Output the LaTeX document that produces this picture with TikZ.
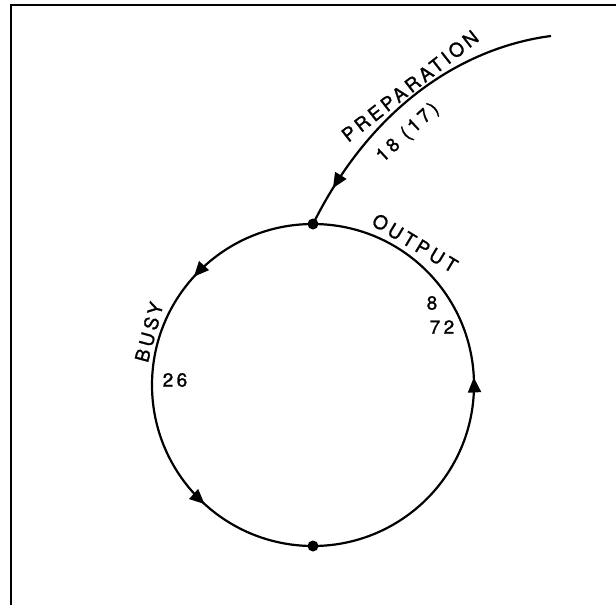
\documentclass[tikz,border=0pt]{standalone}
\usepackage{fontspec}
\setmainfont{TeX Gyre Heros}[LetterSpace=18, FakeBold=1.3]
\usetikzlibrary{arrows.meta,decorations.markings}
\tikzset{
  x=1pt, y=1pt,
  lbl/.style={inner sep=0pt, font=\fontsize{19}{21}\selectfont},
  dot/.style={circle, fill=black, inner sep=0pt, minimum size=11pt},
  flowline/.style={line width=2.2pt},
  mk/.style={postaction={decorate},
    decoration={markings, mark=at position #1 with {\arrow{Triangle[length=15pt,width=13pt]}}}},
  mktwo/.style 2 args={postaction={decorate},
    decoration={markings,
      mark=at position #1 with {\arrow{Triangle[length=15pt,width=13pt]}},
      mark=at position #2 with {\arrow{Triangle[length=15pt,width=13pt]}}}},
}
\begin{document}
\begin{tikzpicture}
\useasboundingbox (0,0) rectangle (616,-605);
% frame
\coordinate (fbl) at (11,-605);
\coordinate (ftl) at (11,-5);
\coordinate (ftr) at (616,-5);
\draw[line width=2pt] (fbl) -- (ftl) -- (ftr);
% nodes
\node[dot] (top) at (313,-224) {};
\node[dot] (bot) at (313,-546) {};
\coordinate (start) at (551,-36);
% circle arcs
\draw[flowline, mktwo={0.265}{0.765}] (top.center) arc[start angle=90, end angle=270, radius=161];
\draw[flowline, mk=0.515] (bot.center) arc[start angle=270, end angle=450, radius=161];
% preparation curve
\draw[flowline, mk=0.87] (start) .. controls (480,-45) and (380,-90) .. (top.center);
% labels
\node[lbl, rotate=38] (prep) at (410,-86) {PREPARATION};
\node[lbl, rotate=43] (prepn) at (408,-133) {18 (17)};
\node[lbl, rotate=-31] (out) at (415,-243) {OUTPUT};
\node[lbl] (outa) at (432,-303) {8};
\node[lbl] (outb) at (442,-327) {72};
\node[lbl, rotate=75] (busy) at (149,-332) {BUSY};
\node[lbl] (busyn) at (175,-380) {26};
\end{tikzpicture}
\end{document}
